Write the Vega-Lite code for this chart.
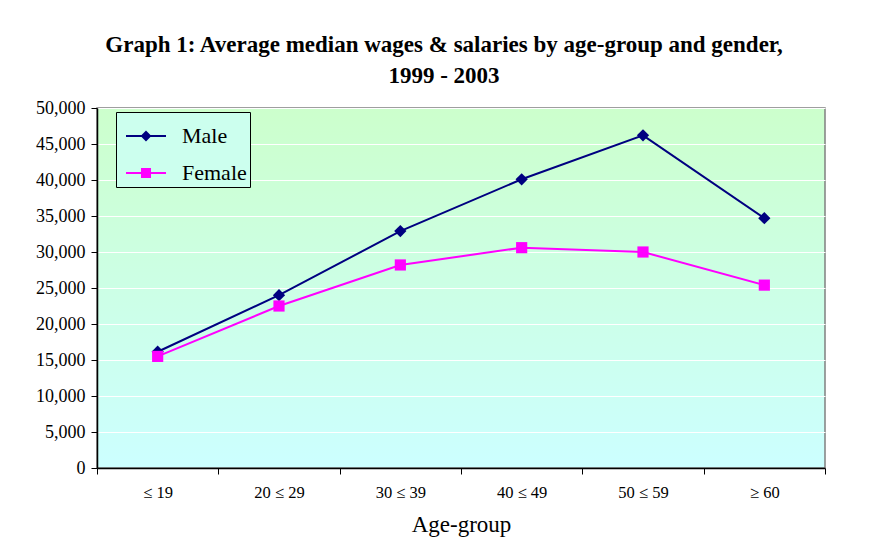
{
  "$schema": "https://vega.github.io/schema/vega-lite/v6.json",
  "autosize": {"type": "none"},
  "width": 728,
  "height": 360,
  "padding": {"left": 97, "top": 108, "right": 46, "bottom": 80},
  "background": "white",
  "title": {
    "text": ["Graph 1: Average median wages & salaries by age-group and gender,", "1999 - 2003"],
    "font": "Liberation Serif",
    "fontSize": 23,
    "fontWeight": "bold",
    "color": "black",
    "anchor": "middle",
    "lineHeight": 31,
    "offset": 11,
    "dx": -17
  },
  "config": {
    "view": {
      "stroke": "#808080",
      "strokeWidth": 1.5,
      "fill": {"gradient": "linear", "x1": 0, "y1": 0, "x2": 0, "y2": 1,
        "stops": [{"offset": 0, "color": "#CCFFCC"}, {"offset": 1, "color": "#CCFFFF"}]}
    },
    "axis": {"labelFont": "Liberation Serif", "titleFont": "Liberation Serif", "labelColor": "black", "titleColor": "black", "domainColor": "black", "tickColor": "black"},
    "legend": {
      "orient": "none", "legendX": 19, "legendY": 4,
      "strokeColor": "black", "fillColor": "#CCFFEE", "padding": 3,
      "labelFont": "Liberation Serif", "labelFontSize": 22, "labelColor": "black",
      "labelOffset": 15, "rowPadding": 5, "symbolSize": 1600, "symbolStrokeWidth": 2,
      "symbolOffset": 6, "symbolOpacity": 1
    }
  },
  "data": {
    "values": [
      {"age": "≤ 19", "gender": "Male", "wage": 16150},
      {"age": "20 ≤ 29", "gender": "Male", "wage": 24000},
      {"age": "30 ≤ 39", "gender": "Male", "wage": 32900},
      {"age": "40 ≤ 49", "gender": "Male", "wage": 40100},
      {"age": "50 ≤ 59", "gender": "Male", "wage": 46200},
      {"age": "≥ 60", "gender": "Male", "wage": 34700},
      {"age": "≤ 19", "gender": "Female", "wage": 15500},
      {"age": "20 ≤ 29", "gender": "Female", "wage": 22500},
      {"age": "30 ≤ 39", "gender": "Female", "wage": 28200},
      {"age": "40 ≤ 49", "gender": "Female", "wage": 30600},
      {"age": "50 ≤ 59", "gender": "Female", "wage": 30000},
      {"age": "≥ 60", "gender": "Female", "wage": 25400}
    ]
  },
  "encoding": {
    "x": {
      "field": "age", "type": "nominal",
      "sort": ["≤ 19", "20 ≤ 29", "30 ≤ 39", "40 ≤ 49", "50 ≤ 59", "≥ 60"],
      "scale": {"paddingInner": 0, "paddingOuter": 0},
      "axis": {
        "title": "Age-group", "titleFontSize": 23, "titleFontWeight": "normal", "titlePadding": 13,
        "labelAngle": 0, "labelFontSize": 16.5, "labelPadding": 10,
        "tickBand": "extent", "tickSize": 6, "domainWidth": 1.5, "grid": false
      }
    },
    "y": {
      "field": "wage", "type": "quantitative",
      "scale": {"domain": [0, 50000], "nice": false},
      "axis": {
        "title": null, "format": ",d", "values": [0, 5000, 10000, 15000, 20000, 25000, 30000, 35000, 40000, 45000, 50000],
        "labelFontSize": 18, "labelPadding": 6, "tickSize": 6, "domainWidth": 1.5,
        "grid": true, "gridColor": "white", "gridWidth": 1.2
      }
    }
  },
  "layer": [
    {
      "mark": {"type": "point", "filled": false, "opacity": 0, "strokeWidth": 2},
      "encoding": {
        "color": {"field": "gender", "type": "nominal", "scale": {"domain": ["Male", "Female"], "range": ["#000080", "#FF00FF"]}, "legend": {"title": null}},
        "shape": {"field": "gender", "type": "nominal",
          "scale": {"domain": ["Male", "Female"], "range": [
            "M-1,0H1M0,-0.2L0.2,0L0,0.2L-0.2,0ZM-0.1,-0.1H0.1M-0.1,0.1H0.1",
            "M-1,0H1M-0.2,-0.2H0.2V0.2H-0.2ZM-0.2,-0.1H0.2M-0.2,0.1H0.2"]},
          "legend": {"title": null}}
      }
    },
    {
      "mark": {"type": "line", "strokeWidth": 2},
      "encoding": {
        "color": {"field": "gender", "type": "nominal", "legend": null}
      }
    },
    {
      "transform": [{"filter": "datum.gender === 'Male'"}],
      "mark": {"type": "point", "filled": true, "opacity": 1, "size": 150, "shape": "diamond"},
      "encoding": {
        "color": {"field": "gender", "type": "nominal", "legend": null}
      }
    },
    {
      "transform": [{"filter": "datum.gender === 'Female'"}],
      "mark": {"type": "point", "filled": true, "opacity": 1, "size": 125, "shape": "square"},
      "encoding": {
        "color": {"field": "gender", "type": "nominal", "legend": null}
      }
    }
  ]
}
